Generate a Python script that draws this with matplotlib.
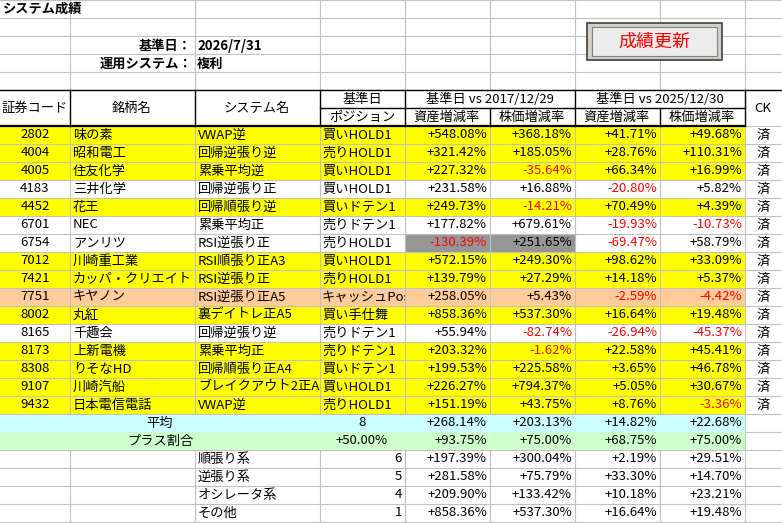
import matplotlib
matplotlib.use("Agg")
import matplotlib.pyplot as plt
from matplotlib.patches import Rectangle
from matplotlib.transforms import Bbox, TransformedBbox

plt.rcParams['font.family'] = ['Noto Sans CJK JP', 'DejaVu Sans']

codes = ["2802","4004","4005","4183","4452","6701","6754","7012","7421","7751","8002","8165","8173","8308","9107","9432"]
names = ["味の素","昭和電工","住友化学","三井化学","花王","NEC","アンリツ","川崎重工業","カッパ・クリエイト","キヤノン","丸紅","千趣会","上新電機","りそなHD","川崎汽船","日本電信電話"]
systems = ["VWAP逆","回帰逆張り逆","累乗平均逆","回帰逆張り正","回帰順張り逆","累乗平均正","RSI逆張り正","RSI順張り正A3","RSI逆張り正","RSI逆張り正A5","裏デイトレ正A5","回帰逆張り逆","累乗平均正","回帰順張り正A4","ブレイクアウト2正A3","VWAP逆"]
positions = ["買いHOLD1","売りHOLD1","買いHOLD1","買いHOLD1","買いドテン1","売りドテン1","売りHOLD1","買いHOLD1","売りHOLD1","キャッシュPos","買い手仕舞","売りドテン1","売りドテン1","買いドテン1","買いHOLD1","売りHOLD1"]
asset_2017 = [548.08,321.42,227.32,231.58,249.73,177.82,-130.39,572.15,139.79,258.05,858.36,55.94,203.32,199.53,226.27,151.19]
price_2017 = [368.18,185.05,-35.64,16.88,-14.21,679.61,251.65,249.30,27.29,5.43,537.30,-82.74,-1.62,225.58,794.37,43.75]
asset_2025 = [41.71,28.76,66.34,-20.80,70.49,-19.93,-69.47,98.62,14.18,-2.59,16.64,-26.94,22.58,3.65,5.05,8.76]
price_2025 = [49.68,110.31,16.99,5.82,4.39,-10.73,58.79,33.09,5.37,-4.42,19.48,-45.37,45.41,46.78,30.67,-3.36]
row_kind = ["y","y","y","w","y","w","w","y","y","o","y","w","y","y","y","y"]

avg_vals = [268.14,203.13,14.82,22.68]
plus_vals = [93.75,75.00,68.75,75.00]
group_names = ["順張り系","逆張り系","オシレータ系","その他"]
group_counts = [6,5,4,1]
group_vals = [[197.39,300.04,2.19,29.51],[281.58,75.79,33.30,14.70],[209.90,133.42,10.18,23.21],[858.36,537.30,16.64,19.48]]

W, H = 782, 523
fig = plt.figure(figsize=(W/100, H/100), dpi=100)
ax = fig.add_axes([0,0,1,1])
ax.set_xlim(0, W); ax.set_ylim(H, 0); ax.axis('off')

xs = [0,70,195,320,405,490,575,660,745,782]
RH = 18
T0 = 126
FS = 9.5
grid = '#c0c0c0'
col = {"y":"#ffff00","w":"#ffffff","o":"#ffcc99"}

def fmt(v):
    return ("+" if v >= 0 else "-") + f"{abs(v):.2f}%"

def txt(x, y, s, ha='left', color='black', clip=None, **kw):
    t = ax.text(x, y, s, ha=ha, va='center', fontsize=FS, color=color, **kw)
    if clip:
        t.set_clip_box(TransformedBbox(Bbox([[clip[0], 0], [clip[1], H]]), ax.transData))
        t.set_clip_on(True)
    return t

# background grid
for y in range(0, H, RH):
    ax.plot([0, W], [y, y], color=grid, lw=0.8, zorder=0.5)
for x in xs[1:-1]:
    ax.plot([x, x], [0, H], color=grid, lw=0.8, zorder=0.5)

# header area white over grid
ax.add_patch(Rectangle((0, 90), 782, 36, facecolor='white', edgecolor='none', zorder=2))

# data rows
for i in range(16):
    y0 = T0 + i*RH
    ax.add_patch(Rectangle((0, y0), 745, RH, facecolor=col[row_kind[i]], edgecolor='none', zorder=0.2))
ax.add_patch(Rectangle((405, T0+6*RH), 170, RH, facecolor='#969696', edgecolor='none', zorder=0.2))
ax.add_patch(Rectangle((0, T0+16*RH+0.5), 745, RH-0.5, facecolor='#ccffff', edgecolor='none', zorder=1))
ax.add_patch(Rectangle((0, T0+17*RH), 745, RH, facecolor='#ccffcc', edgecolor='none', zorder=1))

# header borders
k = dict(color='black', lw=1, zorder=3)
ax.plot([0, 782], [90, 90], **k)
ax.plot([0, 745], [126, 126], color='black', lw=1.6, zorder=3)
ax.plot([320, 745], [108, 108], **k)
for x in [70,195,320,405,575,745]:
    ax.plot([x, x], [90, 126], **k)
for x in [490,660]:
    ax.plot([x, x], [108, 126], **k)

zt = dict(zorder=4)
txt(3, 9, "システム成績", fontweight='bold', **zt)
txt(192, 46, "基準日：", ha='right', fontweight='bold', **zt)
txt(197, 46, "2026/7/31", fontweight='bold', **zt)
txt(192, 64, "運用システム：", ha='right', fontweight='bold', **zt)
txt(197, 64, "複利", fontweight='bold', **zt)

# button
ax.add_patch(Rectangle((587, 23), 135, 37, facecolor='#d4d0c8', edgecolor='#404040', lw=1.2, zorder=3))
ax.add_patch(Rectangle((592, 27), 125, 29, facecolor='#ececec', edgecolor='#808080', lw=0.8, zorder=3))
ax.text(654.5, 42, "成績更新", ha='center', va='center', fontsize=13, color='#ff0000', zorder=4)

txt(35, 108, "証券コード", ha='center', **zt)
txt(132, 108, "銘柄名", ha='center', **zt)
txt(257, 108, "システム名", ha='center', **zt)
txt(362, 99, "基準日", ha='center', **zt)
txt(362, 117, "ポジション", ha='center', **zt)
txt(490, 99, "基準日 vs 2017/12/29", ha='center', **zt)
txt(660, 99, "基準日 vs 2025/12/30", ha='center', **zt)
for x, s in [(447,"資産増減率"),(532,"株価増減率"),(617,"資産増減率"),(702,"株価増減率")]:
    txt(x, 117, s, ha='center', **zt)
txt(763, 108, "CK", ha='center', **zt)

for i in range(16):
    yc = T0 + i*RH + RH/2
    txt(35, yc, codes[i], ha='center', **zt)
    txt(73, yc, names[i], clip=(70,195), **zt)
    txt(198, yc, systems[i], clip=(195,320), **zt)
    txt(322, yc, positions[i], clip=(320,405), **zt)
    for j, arr in enumerate([asset_2017, price_2017, asset_2025, price_2025]):
        v = arr[i]
        txt(xs[4+j+1]-3, yc, fmt(v), ha='right', color='black' if v >= 0 else '#ff0000', **zt)
    txt(763, yc, "済", ha='center', **zt)

yc = T0 + 16*RH + RH/2
txt(160, yc, "平均", ha='center', **zt)
txt(362, yc, "8", ha='center', **zt)
for j, v in enumerate(avg_vals):
    txt(xs[5+j]-3, yc, fmt(v), ha='right', **zt)
yc = T0 + 17*RH + RH/2
txt(160, yc, "プラス割合", ha='center', **zt)
txt(362, yc, fmt(50.00), ha='center', **zt)
for j, v in enumerate(plus_vals):
    txt(xs[5+j]-3, yc, fmt(v), ha='right', **zt)
for g in range(4):
    yc = T0 + (18+g)*RH + RH/2
    txt(198, yc, group_names[g], **zt)
    txt(402, yc, str(group_counts[g]), ha='right', **zt)
    for j, v in enumerate(group_vals[g]):
        txt(xs[5+j]-3, yc, fmt(v), ha='right', **zt)

fig.savefig("out.png", dpi=100)
